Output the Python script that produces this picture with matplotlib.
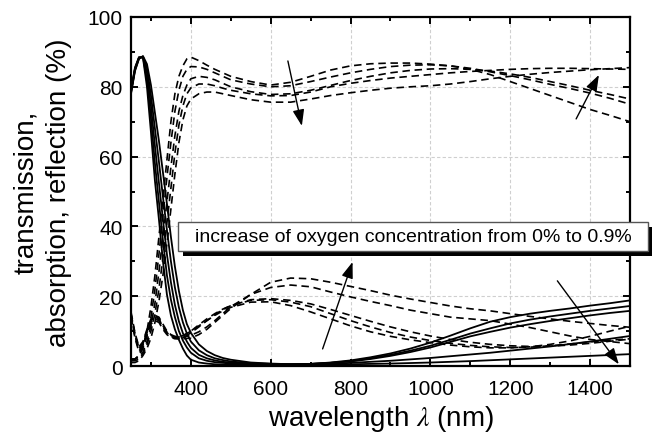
import matplotlib
matplotlib.use("Agg")
import matplotlib.pyplot as plt
from matplotlib.patches import Rectangle
from matplotlib.ticker import MultipleLocator

plt.rcParams["font.family"] = ["Liberation Sans", "DejaVu Sans"]
plt.rcParams["mathtext.fontset"] = "stix"

# wavelength grid (nm) shared by all spectra
wavelength = [250, 260, 270, 280, 290, 300, 310, 320, 330, 340,
              350, 360, 370, 380, 390, 400, 420, 440, 460, 480,
              500, 550, 600, 650, 700, 750, 800, 850, 900, 950,
              1000, 1050, 1100, 1150, 1200, 1250, 1300, 1350, 1400, 1450, 1500]

# transmission (%), samples 1..5 with rising oxygen content
trans_1 = [2, 2, 3, 5.5, 10, 17, 26, 37, 48, 59,
           70, 78, 83, 86, 88, 88.5, 87.5, 86.2, 85, 84,
           83, 81.5, 80.5, 81.3, 83, 84.8, 86, 86.6, 86.8, 86.8,
           86.5, 86, 85, 83.5, 81.5, 79.5, 77.5, 75.5, 73.5, 71.8, 70]
trans_2 = [2, 2, 3, 5, 8.5, 14, 22, 32, 43, 54,
           64, 73, 79, 83, 85, 85.8, 85.7, 85, 84, 83,
           82, 80.8, 80, 80.3, 81.5, 82.8, 84, 85, 85.8, 86.2,
           86.3, 86, 85.3, 84.3, 83.2, 82, 80.7, 79.5, 78.2, 76.7, 75]
trans_3 = [1.5, 2, 2.5, 4, 7, 11.5, 18, 27, 37, 47,
           57, 66, 73, 77.5, 80.5, 82.3, 83, 82.7, 82, 81,
           80, 78.6, 77.8, 78, 79, 80.4, 81.8, 83, 84, 84.7,
           85.1, 85.2, 85, 84.5, 83.7, 82.7, 81.5, 80.3, 79, 77.8, 76.5]
trans_4 = [1.5, 1.5, 2, 3.5, 6, 10, 15, 22, 31, 41,
           51, 61, 69, 74.5, 78, 79.7, 80.8, 80.8, 80.3, 79.6,
           79, 78, 77.4, 77.5, 78.5, 80, 81, 81.8, 82.5, 83,
           83.5, 84, 84.4, 84.7, 85, 85.2, 85.3, 85.3, 85.2, 85.1, 85]
trans_5 = [1, 1, 1.5, 3, 5, 8, 12.5, 18.5, 26, 35,
           45, 55, 64, 70.5, 74.5, 76.5, 78, 78.5, 78.5, 78,
           77.5, 76.3, 75.6, 75.6, 76.5, 77.5, 78.3, 79, 79.6, 80,
           80.3, 80.8, 81.5, 82.3, 83, 83.6, 84.1, 84.5, 84.9, 85.2, 85.5]

# reflection (%)
refl_1 = [14.5, 8.5, 4.5, 6, 9.5, 12.5, 13.5, 13, 11, 9.5,
          8.7, 8.3, 8.3, 8.7, 9.3, 10, 11.5, 13, 14.5, 15.8,
          16.8, 18.3, 18.4, 17.3, 15.5, 13.5, 11.5, 9.8, 8.5, 7.5,
          6.7, 6, 5.5, 5.2, 5.2, 5.5, 6.2, 7.2, 8.5, 10, 11.4]
refl_2 = [15, 9, 5, 6.5, 10, 13, 14.5, 14, 12, 10,
          9, 8.5, 8.4, 8.7, 9.3, 10, 11.8, 13.5, 15, 16.3,
          17.3, 18.8, 19, 18.3, 17, 15, 13, 11.2, 9.6, 8.3,
          7.3, 6.5, 5.9, 5.5, 5.3, 5.4, 5.8, 6.3, 6.9, 7.4, 7.8]
refl_3 = [14, 8, 4, 5.5, 9, 12, 13, 12.5, 10.5, 9,
          8.2, 7.8, 7.8, 8.2, 8.8, 9.5, 11.2, 13, 14.7, 16.2,
          17.3, 19, 19.3, 18.8, 17.8, 16.2, 14.5, 12.8, 11.2, 9.8,
          8.6, 7.6, 6.8, 6.2, 5.8, 5.6, 5.7, 6, 6.5, 7.1, 7.7]
refl_4 = [15.5, 9.5, 5.5, 7, 10.5, 13.5, 14.5, 13.5, 11.5, 9.8,
          8.8, 8.2, 8, 8.2, 8.5, 8.8, 9.8, 11.2, 13, 15,
          17, 20.5, 22.5, 23.2, 22.7, 21.2, 19.8, 18.5, 17.3, 16,
          15, 14, 13.5, 13, 12, 11, 9.8, 8.6, 7.6, 7, 6.4]
refl_5 = [14.8, 9, 5, 6.5, 10, 13, 14, 13.3, 11.3, 9.5,
          8.5, 8, 7.8, 7.8, 7.9, 8, 9, 10.5, 12.5, 14.5,
          16.5, 20.5, 24, 25.2, 25, 24, 22.8, 21.6, 20.3, 19.2,
          18.2, 17.2, 16.4, 15.8, 15, 14.2, 13.5, 12.8, 12.2, 11.6, 11.1]

# absorption (%)
abs_1 = [79, 85.5, 88.5, 88.3, 80, 67, 53, 42, 30, 20.5,
         14.5, 10.5, 7.5, 5, 3, 1.8, 1, 0.7, 0.5, 0.4,
         0.35, 0.3, 0.3, 0.4, 0.6, 1, 1.6, 2.5, 3.6, 5,
         6.7, 8.7, 10.8, 12.7, 14, 15, 15.8, 16.5, 17.3, 18, 18.8]
abs_2 = [79, 85.3, 88.4, 88.5, 82, 71, 58, 47, 36, 26,
         19, 14, 10, 7.3, 5.3, 3.8, 2.2, 1.5, 1.1, 0.9,
         0.7, 0.5, 0.4, 0.4, 0.6, 0.9, 1.4, 2.2, 3.2, 4.4,
         5.8, 7.5, 9.3, 10.8, 12.2, 13.3, 14.2, 15, 15.8, 16.5, 17.2]
abs_3 = [78.5, 85, 88.3, 88.6, 84, 74.5, 63, 52.5, 42, 32,
         24, 17.5, 12.8, 9.4, 7, 5.2, 3.2, 2.2, 1.6, 1.2,
         1, 0.6, 0.5, 0.5, 0.6, 0.9, 1.3, 2, 2.9, 4,
         5.3, 6.9, 8.5, 9.8, 11, 12, 12.9, 13.7, 14.5, 15.2, 15.8]
abs_4 = [78.3, 84.8, 88.1, 88.7, 85.5, 77.5, 68, 58.5, 48.5, 39,
         30, 22.5, 16.8, 12.5, 9.3, 7, 4.5, 3.1, 2.2, 1.7,
         1.3, 0.8, 0.6, 0.5, 0.5, 0.6, 0.9, 1.2, 1.5, 1.9,
         2.3, 2.8, 3.3, 3.8, 4.4, 5, 5.6, 6.3, 7, 7.8, 8.6]
abs_5 = [78, 84.5, 88, 88.8, 86.5, 80.5, 72.5, 64.5, 55.5, 46.5,
         37, 28.5, 21.5, 16, 12, 9.5, 6.2, 4.3, 3.1, 2.3,
         1.8, 1, 0.7, 0.5, 0.4, 0.4, 0.5, 0.6, 0.7, 0.85,
         1, 1.2, 1.4, 1.65, 1.9, 2.15, 2.4, 2.65, 2.9, 3.15, 3.4]

transmission = [trans_1, trans_2, trans_3, trans_4, trans_5]
reflection = [refl_1, refl_2, refl_3, refl_4, refl_5]
absorption = [abs_1, abs_2, abs_3, abs_4, abs_5]

# trend arrows: (start, end) in data coordinates
arrows = [((643, 87.4), (678, 68.8)),
          ((1365, 70.8), (1422, 83.4)),
          ((730, 4.9), (805, 29.8)),
          ((1318, 24.4), (1472, 0.5))]

fig = plt.figure(figsize=(6.52, 4.39), dpi=100)
ax = fig.add_axes([0.2009, 0.164, 0.7654, 0.795])

for t in transmission:
    ax.plot(wavelength, t, color="black", lw=1.2, dashes=(4.5, 2.8))
for r in reflection:
    ax.plot(wavelength, r, color="black", lw=1.2, dashes=(4.5, 2.8))
for a in absorption:
    ax.plot(wavelength, a, color="black", lw=1.3)

for (x0, y0), (x1, y1) in arrows:
    ax.annotate("", xy=(x1, y1), xytext=(x0, y0),
                arrowprops=dict(arrowstyle="-|>,head_length=0.7,head_width=0.25",
                                color="black", lw=1.0,
                                mutation_scale=14, shrinkA=0, shrinkB=0))

ax.set_xlim(250, 1500)
ax.set_ylim(0, 100)
ax.xaxis.set_major_locator(MultipleLocator(200))
ax.xaxis.set_minor_locator(MultipleLocator(100))
ax.yaxis.set_major_locator(MultipleLocator(20))
ax.yaxis.set_minor_locator(MultipleLocator(10))
ax.set_xticks([400, 600, 800, 1000, 1200, 1400])
ax.tick_params(which="both", direction="in", top=True, right=True,
               labeltop=False, labelright=False, width=1.4, labelsize=15)
ax.tick_params(which="major", length=5)
ax.tick_params(which="minor", length=3)
ax.tick_params(axis="x", which="major", pad=9)
ax.tick_params(axis="y", which="major", pad=6)
for side in ax.spines.values():
    side.set_linewidth(1.6)
ax.grid(True, which="major", color="#cfcfcf", lw=0.8, ls=(0, (3, 2)))
ax.set_axisbelow(True)

ax.set_xlabel(r"wavelength $\lambda$ (nm)", fontsize=20, labelpad=4)
ax.set_ylabel("transmission,\nabsorption, reflection (%)", fontsize=20,
              labelpad=11, linespacing=1.35)

# note box with a solid drop shadow, running past the right frame
box_x, box_y, box_w, box_h = 0.094, 0.330, 0.942, 0.083
ax.add_patch(Rectangle((box_x + 0.010, box_y - 0.014), box_w, box_h,
                       transform=ax.transAxes, facecolor="black",
                       edgecolor="none", clip_on=False, zorder=5))
ax.add_patch(Rectangle((box_x, box_y), box_w, box_h,
                       transform=ax.transAxes, facecolor="white",
                       edgecolor="#555555", lw=1.0, clip_on=False, zorder=6))
ax.text(box_x + box_w / 2, box_y + box_h / 2,
        "increase of oxygen concentration from 0% to 0.9%",
        transform=ax.transAxes, ha="center", va="center", fontsize=14,
        zorder=7)

fig.savefig("out.png", dpi=100)
